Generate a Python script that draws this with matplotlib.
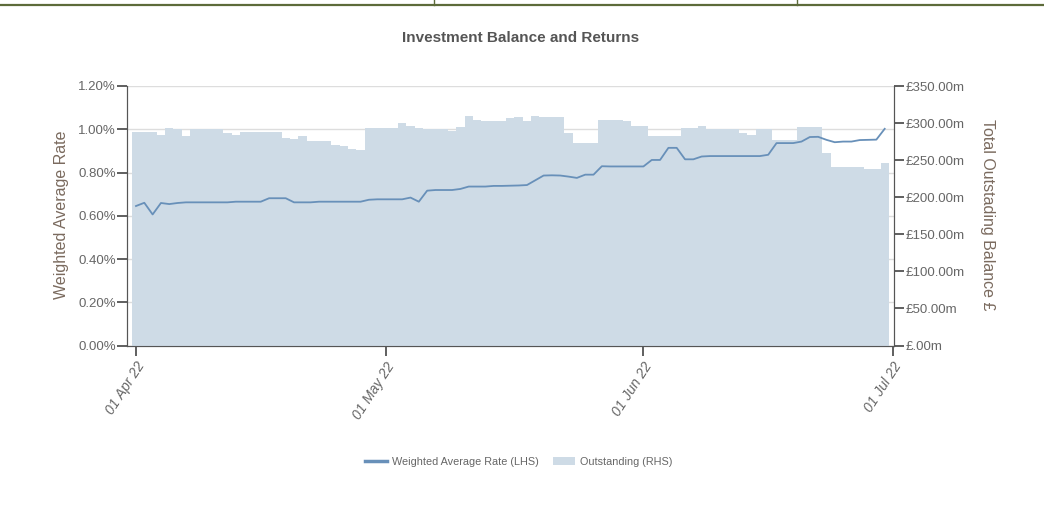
import numpy as np
import pandas as pd
import matplotlib
matplotlib.use('Agg')
import matplotlib.pyplot as plt
import matplotlib.dates as mdates
from matplotlib.lines import Line2D
from matplotlib.patches import Patch

plt.rcParams['font.family'] = 'Liberation Sans'

# daily data, 01 Apr 22 onwards
start_date = '2022-04-01'

# total outstanding balance, £m
balance = [288, 288, 288, 284.5, 294, 292.6, 282, 291.7, 291.7, 291.7,
           291.7, 286.3, 284, 288, 288, 288, 288, 288, 280, 278.2,
           282, 275.5, 275.5, 275.5, 271, 269, 265.5, 263.4, 294, 294,
           294, 294, 300.7, 296.2, 294, 291.7, 291.7, 291.7, 289, 294.4,
           310.2, 304.3, 302.5, 302.5, 302.5, 306.5, 308.3, 303.4, 310.2, 308.3,
           308.3, 308.3, 286, 273.3, 273.3, 273.3, 304.7, 304.7, 304.7, 302.5,
           296.2, 296.2, 282, 282, 282, 282, 294, 294, 296.2, 292.6,
           292.6, 292.6, 292.6, 287.2, 284.5, 291.7, 291.7, 277, 277, 277,
           294.4, 294.4, 294.4, 259, 240.1, 240.1, 240.1, 240.1, 238.3, 238.3,
           246.4]

# weighted average rate, %
rate = [0.645, 0.660, 0.606, 0.659, 0.654, 0.659, 0.662, 0.662, 0.662, 0.662,
        0.662, 0.662, 0.665, 0.665, 0.665, 0.665, 0.681, 0.681, 0.681, 0.662,
        0.662, 0.662, 0.665, 0.665, 0.665, 0.665, 0.665, 0.665, 0.674, 0.676,
        0.676, 0.676, 0.676, 0.684, 0.665, 0.716, 0.719, 0.719, 0.719, 0.724,
        0.735, 0.735, 0.735, 0.738, 0.738, 0.739, 0.740, 0.742, 0.764, 0.786,
        0.787, 0.786, 0.781, 0.775, 0.790, 0.790, 0.829, 0.828, 0.828, 0.828,
        0.828, 0.828, 0.858, 0.858, 0.914, 0.914, 0.861, 0.861, 0.874, 0.876,
        0.876, 0.876, 0.876, 0.876, 0.876, 0.876, 0.882, 0.936, 0.936, 0.936,
        0.943, 0.964, 0.965, 0.951, 0.940, 0.943, 0.943, 0.950, 0.951, 0.952,
        1.002]

x_ticks = ['2022-04-01', '2022-05-01', '2022-06-01', '2022-07-01']

dates = pd.date_range(start_date, periods=len(balance), freq='D')

bar_color = '#cedbe6'
line_color = '#6890b9'
tick_color = '#666666'
label_color = '#7a6a5e'

fig = plt.figure(figsize=(10.44, 5.09), dpi=100)
W, H = 1044, 509
ax1 = fig.add_axes([127 / W, 1 - 345.5 / H, (894 - 127) / W, (345.5 - 86) / H])
ax2 = ax1.twinx()

# bars on the right axis, line drawn in ax2 but using ax1's scale so it sits on top
ax2.bar(dates, balance, width=1.0, color=bar_color, linewidth=0, zorder=1)
ax2.plot(dates, rate, color=line_color, linewidth=1.3, zorder=3, transform=ax1.transData)

x0 = mdates.date2num(pd.Timestamp(x_ticks[0])) - 1.08
x1 = mdates.date2num(pd.Timestamp(x_ticks[-1])) + 0.12
ax1.set_xlim(x0, x1)
ax1.set_ylim(0, 1.2)
ax2.set_ylim(0, 350)

ax1.set_yticks(np.arange(0, 1.21, 0.2))
ax1.yaxis.set_major_formatter(plt.FuncFormatter(lambda v, p: f'{v:.2f}%'))
ax2.set_yticks(np.arange(0, 351, 50))


def money(v, p):
    s = f'{v:.2f}'
    if s.startswith('0'):
        s = s[1:]
    return f'£{s}m'


ax2.yaxis.set_major_formatter(plt.FuncFormatter(money))

ax1.set_xticks([mdates.date2num(pd.Timestamp(d)) for d in x_ticks])
ax1.xaxis.set_major_formatter(mdates.DateFormatter('%d %b %y'))

ax1.grid(axis='y', color='#dddddd', linewidth=1)
ax1.set_axisbelow(True)

for ax in (ax1, ax2):
    for s in ax.spines.values():
        s.set_color('#555555')
    ax.spines['top'].set_visible(False)
    ax.tick_params(colors='#444444', labelcolor=tick_color, length=7, width=1.2)

ax1.tick_params(axis='y', labelsize=9.5, pad=1)
ax2.tick_params(axis='y', labelsize=9.5, pad=1)
ax1.tick_params(axis='x', labelsize=10, pad=3)
for lab in ax1.get_xticklabels():
    lab.set_rotation(57)
    lab.set_ha('right')
    lab.set_va('top')
    lab.set_rotation_mode('anchor')
    lab.set_style('italic')

ax1.set_ylabel('Weighted Average Rate', fontsize=11.5, color=label_color)
ax1.yaxis.set_label_coords((69 - 127) / 767, 0.503)
ax2.set_ylabel('Total Outstading Balance £', fontsize=11.5, color=label_color,
               rotation=-90, va='center')
ax2.yaxis.set_label_coords((988 - 127) / 767, 0.503)

fig.text(521 / W, 1 - 38 / H, 'Investment Balance and Returns', fontsize=11, weight='bold',
         color='#555555', ha='center', va='center')

handles = [Line2D([], [], color=line_color, linewidth=2.5),
           Patch(facecolor=bar_color, edgecolor='none')]
fig.legend(handles, ['Weighted Average Rate (LHS)', 'Outstanding (RHS)'], loc='center',
           bbox_to_anchor=(519 / W, 1 - 462 / H), ncol=2, frameon=False,
           fontsize=7.8, labelcolor=tick_color,
           handlelength=2.0, handletextpad=0.5, columnspacing=1.3)

# page frame line at the top of the image
fig.add_artist(Line2D([0, 1], [1 - 5 / H, 1 - 5 / H], color='#5d6b3a', linewidth=1.6))
for xp in (434, 797):
    fig.add_artist(Line2D([xp / W, xp / W], [1 - 5 / H, 1], color='#5d6b3a', linewidth=1))

fig.savefig('out.png', dpi=100)
